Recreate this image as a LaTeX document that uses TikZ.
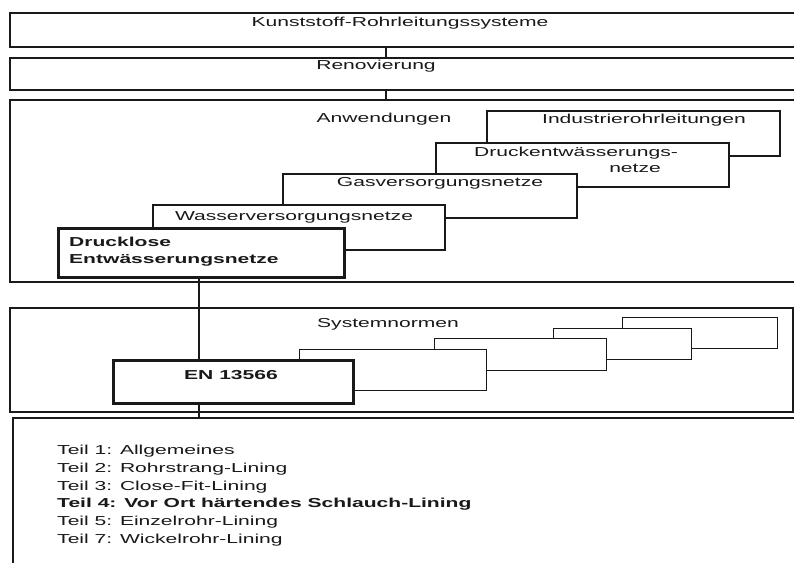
\documentclass[tikz,border=0pt]{standalone}
\usepackage{fontspec}
\setmainfont{Liberation Sans}[FakeStretch=1.62]
\begin{document}
\begin{tikzpicture}[x=1pt,y=-1pt,
  box/.style={draw=black!90, line width=1.6pt, fill=white, inner sep=0pt, anchor=north west},
  thickbox/.style={box, line width=3.2pt},
  thinbox/.style={box, line width=1.3pt},
  lbl/.style={anchor=base, inner sep=0pt, text=black!90, font=\fontsize{13}{15}\selectfont},
  lbll/.style={lbl, anchor=base west},
  blbll/.style={lbll, font=\fontsize{13}{15}\selectfont\bfseries},
  link/.style={draw=black!90, line width=1.6pt}]
\useasboundingbox (0,0) rectangle (794,562);
\fill[white] (0,0) rectangle (794,562);
\clip (0,0) rectangle (794,562);
% outer boxes
\node[box, minimum width=791pt, minimum height=34pt] (top) at (9,12) {};
\node[box, minimum width=791pt, minimum height=32pt] (reno) at (9,57) {};
\node[box, minimum width=791pt, minimum height=182pt] (anw) at (9,99) {};
% application boxes (back to front)
\node[box, minimum width=293pt, minimum height=45pt] (ind) at (486,110) {};
\node[box, minimum width=293pt, minimum height=44pt] (druck) at (435,142) {};
\node[box, minimum width=294pt, minimum height=44pt] (gas) at (282,173) {};
\node[box, minimum width=292pt, minimum height=45pt] (wasser) at (152,204) {};
\node[thickbox, minimum width=286pt, minimum height=49pt] (drucklos) at (57,227) {};
% system standards
\node[box, minimum width=783pt, minimum height=104pt] (sys) at (9,307) {};
\node[thinbox, minimum width=155pt, minimum height=31pt] (na) at (622,317) {};
\node[thinbox, minimum width=138pt, minimum height=31pt] (nb) at (553,328) {};
\node[thinbox, minimum width=172pt, minimum height=32pt] (nc) at (434,338) {};
\node[thinbox, minimum width=187pt, minimum height=41pt] (nd) at (299,349) {};
\node[thickbox, minimum width=240pt, minimum height=43pt] (en) at (112,359) {};
% bottom list box
\node[box, minimum width=790pt, minimum height=170pt] (parts) at (12,417) {};
% connectors
\coordinate (cx1) at (386,0);
\coordinate (cx2) at (199,0);
\draw[link] (top.south -| cx1) -- (reno.north -| cx1);
\draw[link] (reno.south -| cx1) -- (anw.north -| cx1);
\draw[link] (drucklos.south -| cx2) -- (en.north -| cx2);
\draw[link] (en.south -| cx2) -- (parts.north -| cx2);
% texts
\node[lbl] (t1) at (400,26) {Kunststoff-Rohrleitungssysteme};
\node[lbl] (t2) at (376,69) {Renovierung};
\node[lbl] (t3) at (384,122) {Anwendungen};
\node[lbl] (t4) at (644,123) {Industrierohrleitungen};
\node[lbl] (t5) at (576,156) {Druckentwässerungs-};
\node[lbl] (t6) at (635,172) {netze};
\node[lbl] (t7) at (440,186) {Gasversorgungsnetze};
\node[lbl] (t8) at (294,220) {Wasserversorgungsnetze};
\node[blbll] (t9) at (69,246) {Drucklose};
\node[blbll] (t10) at (69,263) {Entwässerungsnetze};
\node[lbl] (t11) at (388,327) {Systemnormen};
\node[lbl, font=\fontsize{13}{15}\selectfont\bfseries] (t12) at (231,379) {EN 13566};
\node[lbll] (p1) at (57,454) {Teil 1: Allgemeines};
\node[lbll] (p2) at (57,472) {Teil 2: Rohrstrang-Lining};
\node[lbll] (p3) at (57,490) {Teil 3: Close-Fit-Lining};
\node[blbll] (p4) at (57,507) {Teil 4: Vor Ort härtendes Schlauch-Lining};
\node[lbll] (p5) at (57,525) {Teil 5: Einzelrohr-Lining};
\node[lbll] (p6) at (57,543) {Teil 7: Wickelrohr-Lining};
\end{tikzpicture}
\end{document}
